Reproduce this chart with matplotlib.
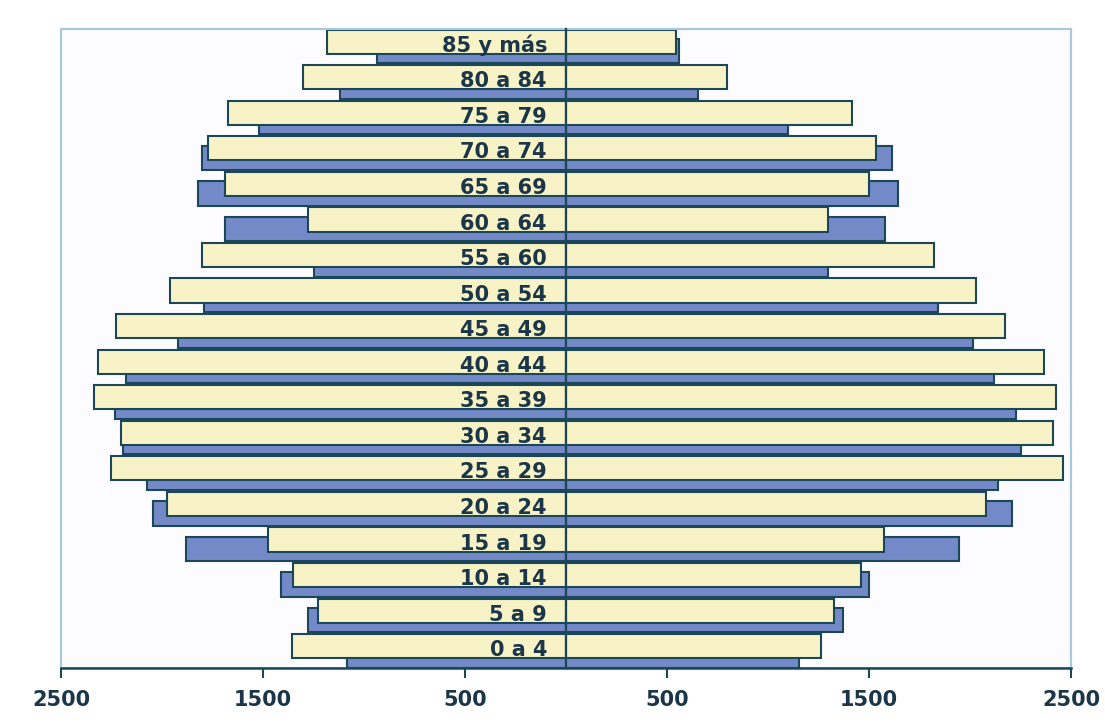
import matplotlib
matplotlib.use("Agg")
import matplotlib.pyplot as plt
from matplotlib.patches import Rectangle
from matplotlib.transforms import ScaledTranslation
import numpy as np

# Age groups, bottom to top
categories = ["0 a 4", "5 a 9", "10 a 14", "15 a 19", "20 a 24", "25 a 29",
              "30 a 34", "35 a 39", "40 a 44", "45 a 49", "50 a 54", "55 a 60",
              "60 a 64", "65 a 69", "70 a 74", "75 a 79", "80 a 84", "85 y más"]

# Front (cream) series
left_cream = [1356, 1228, 1351, 1475, 1975, 2252, 2203, 2337, 2317, 2228,
              1960, 1802, 1277, 1688, 1772, 1673, 1302, 1183]
right_cream = [1262, 1327, 1460, 1574, 2079, 2460, 2411, 2426, 2366, 2173,
               2030, 1822, 1297, 1500, 1535, 1416, 797, 545]

# Back (blue) series
left_blue = [1084, 1277, 1411, 1881, 2045, 2074, 2193, 2233, 2178, 1921,
             1792, 1248, 1688, 1822, 1802, 1520, 1119, 936]
right_blue = [1153, 1371, 1500, 1946, 2208, 2139, 2252, 2228, 2119, 2015,
              1842, 1297, 1579, 1644, 1614, 1099, 653, 559]

tick_values = [-2500, -1500, -500, 500, 1500, 2500]
tick_labels = ["2500", "1500", "500", "500", "1500", "2500"]

CREAM = "#f7f3c6"
BLUE = "#7489c8"
EDGE = "#1c4759"
DARK = "#1a3648"
FRAME = "#a9c8dc"

fig = plt.figure(figsize=(11.05, 7.26), dpi=100)
fig.patch.set_facecolor("white")
ax = fig.add_axes([61 / 1105, 58 / 726, 1010 / 1105, 639 / 726])
ax.set_facecolor("#fcfcfe")

y = np.arange(len(categories))
h = 0.68
off = 0.134

ax.barh(y - off, -np.array(left_blue), height=h, color=BLUE, edgecolor=EDGE, linewidth=1.5, zorder=1)
ax.barh(y - off, right_blue, height=h, color=BLUE, edgecolor=EDGE, linewidth=1.5, zorder=1)
ax.barh(y + off, -np.array(left_cream), height=h, color=CREAM, edgecolor=EDGE, linewidth=1.5, zorder=2)
ax.barh(y + off, right_cream, height=h, color=CREAM, edgecolor=EDGE, linewidth=1.5, zorder=2)

ax.set_xlim(-2500, 2500)
ax.set_ylim(-0.48, 17.49)

# x axis
ax.set_xticks(tick_values)
ax.set_xticklabels(tick_labels, fontsize=15, fontweight="bold", color=DARK)
ax.tick_params(axis="x", length=7, width=1.5, color=EDGE, pad=9, direction="out")

# category axis at the center
ax.spines["left"].set_position(("data", 0))
ax.spines["left"].set_color(EDGE)
ax.spines["left"].set_linewidth(1.6)
ax.spines["left"].set_zorder(4)
ax.set_yticks(y[:-1] + 0.5)
ax.set_yticklabels([])
ax.tick_params(axis="y", length=4, width=1.3, color=EDGE, direction="out")

ax.spines["bottom"].set_color(EDGE)
ax.spines["bottom"].set_linewidth(1.8)
ax.spines["bottom"].set_zorder(5)
for s in ("top", "right"):
    ax.spines[s].set_color(FRAME)
    ax.spines[s].set_linewidth(1.5)

# left frame border
ax.add_patch(Rectangle((0, 0), 1, 1, transform=ax.transAxes, fill=False,
                       edgecolor=FRAME, linewidth=1.5, clip_on=False, zorder=0.5))

# category labels, right-aligned just left of the center axis
tr = ax.transData + ScaledTranslation(-0.19, 0, fig.dpi_scale_trans)
for yi, lab in zip(y, categories):
    ax.text(0, yi - 0.15, lab, transform=tr, ha="right", va="baseline",
            fontsize=15, fontweight="bold", color=DARK, zorder=6)

fig.savefig("out.png", dpi=100)
